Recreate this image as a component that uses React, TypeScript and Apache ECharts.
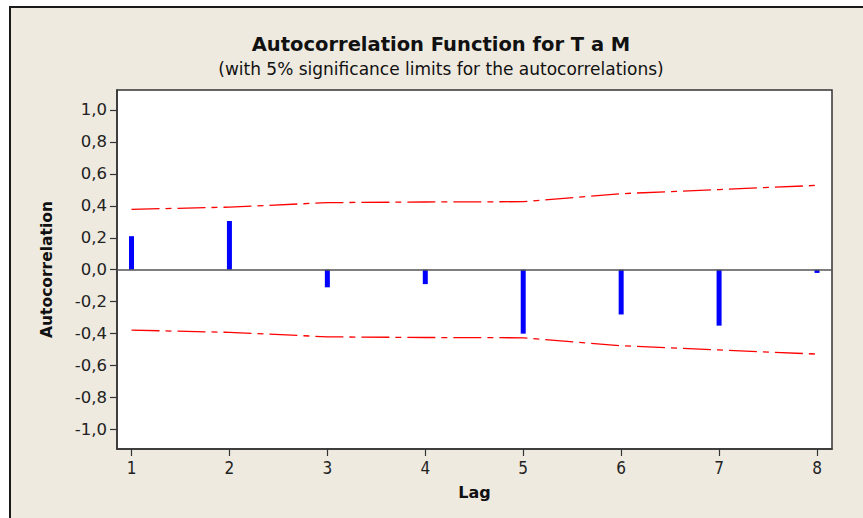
import React, { useEffect, useRef } from "react";
import * as echarts from "echarts";

const lags = [1, 2, 3, 4, 5, 6, 7, 8];
const acf = [0.21, 0.305, -0.11, -0.09, -0.4, -0.28, -0.35, -0.02];
const limits = [0.378, 0.392, 0.42, 0.424, 0.426, 0.476, 0.502, 0.528];
const yTicks = [-1.0, -0.8, -0.6, -0.4, -0.2, 0.0, 0.2, 0.4, 0.6, 0.8, 1.0];
const xTicks = [1, 2, 3, 4, 5, 6, 7, 8];

const titleText = "Autocorrelation Function for T a M";
const subText = "(with 5% significance limits for the autocorrelations)";

export default function App() {
  const ref = useRef<HTMLDivElement>(null);
  useEffect(() => {
    if (!ref.current) return;
    const chart = echarts.init(ref.current, undefined, { renderer: "svg" });
    const font = "DejaVu Sans";
    chart.setOption({
      animation: false,
      backgroundColor: "#ffffff",
      graphic: [
        {
          type: "rect",
          z: -10,
          silent: true,
          shape: { x: 10, y: 7, width: 870, height: 530 },
          style: { fill: "#EEEAE0", stroke: "#1a1a1a", lineWidth: 2 },
        },
        {
          type: "text",
          x: 441,
          y: 44.5,
          style: {
            text: titleText,
            fontFamily: font,
            fontWeight: "bold",
            fontSize: 19.5,
            fill: "#111",
            align: "center",
            verticalAlign: "middle",
          },
        },
        {
          type: "text",
          x: 441,
          y: 68.5,
          style: {
            text: subText,
            fontFamily: font,
            fontSize: 17,
            fill: "#111",
            align: "center",
            verticalAlign: "middle",
          },
        },
      ],
      grid: {
        left: 117,
        top: 90,
        right: 31,
        bottom: 69,
        show: true,
        backgroundColor: "#ffffff",
        borderColor: "#333",
        borderWidth: 1.5,
      },
      xAxis: {
        type: "value",
        min: 0.852,
        max: 8.153,
        name: "Lag",
        nameLocation: "middle",
        nameGap: 35,
        nameTextStyle: { fontFamily: font, fontWeight: "bold", fontSize: 16, color: "#111" },
        axisLine: { show: true, onZero: false, lineStyle: { color: "#333", width: 1.5 } },
        axisTick: { show: true, length: 7, customValues: xTicks, lineStyle: { color: "#333", width: 1.2 } },
        axisLabel: {
          customValues: xTicks,
          fontFamily: "DejaVu Sans Condensed",
          fontSize: 17,
          color: "#222",
          margin: 10,
          formatter: (v: number) => String(v),
        },
        splitLine: { show: false },
      },
      yAxis: {
        type: "value",
        min: -1.122,
        max: 1.125,
        name: "Autocorrelation",
        nameLocation: "middle",
        nameGap: 62,
        nameTextStyle: { fontFamily: font, fontWeight: "bold", fontSize: 15.5, color: "#111" },
        axisLine: { show: true, lineStyle: { color: "#333", width: 1.5 } },
        axisTick: { show: true, length: 7, customValues: yTicks, lineStyle: { color: "#333", width: 1.2 } },
        axisLabel: {
          customValues: yTicks,
          fontFamily: font,
          fontSize: 16.5,
          color: "#222",
          margin: 10,
          formatter: (v: number) => v.toFixed(1).replace(".", ","),
        },
        splitLine: { show: false },
      },
      series: [
        {
          type: "bar",
          barWidth: 5,
          data: lags.map((l, i) => [l, acf[i]]),
          itemStyle: { color: "#0000ff" },
          markLine: {
            silent: true,
            symbol: "none",
            label: { show: false },
            lineStyle: { color: "#555", width: 1.5, type: "solid" },
            data: [{ yAxis: 0 }],
          },
        },
        {
          type: "line",
          data: lags.map((l, i) => [l, limits[i]]),
          symbol: "none",
          lineStyle: { color: "#ff0000", width: 1.3, type: [28, 6, 6, 6] },
        },
        {
          type: "line",
          data: lags.map((l, i) => [l, -limits[i]]),
          symbol: "none",
          lineStyle: { color: "#ff0000", width: 1.3, type: [28, 6, 6, 6] },
        },
      ],
    });
    return () => chart.dispose();
  }, []);
  return (
    <div
      ref={ref}
      style={{ position: "fixed", left: 0, top: 0, width: 863, height: 518 }}
    />
  );
}
